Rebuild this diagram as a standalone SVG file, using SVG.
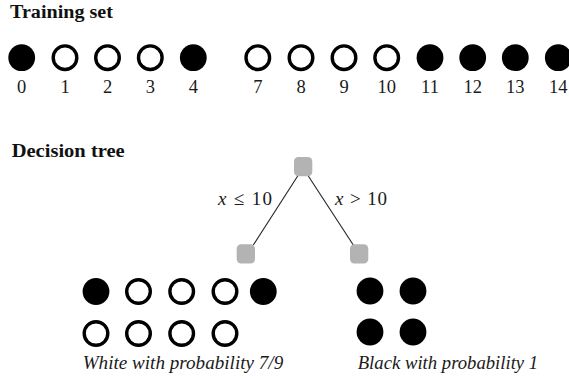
<svg xmlns="http://www.w3.org/2000/svg" width="569" height="379" viewBox="0 0 569 379">
<style>
text{font-family:"Liberation Serif","Times New Roman",serif;fill:#1a1a1a}
.title{font-weight:bold;font-size:18.5px;fill:#111}
.num{font-size:18.5px;text-anchor:middle}
.cap{font-style:italic;font-size:18px}
.lbl{font-size:19px}
.b{fill:#000}
.w{fill:#fff;stroke:#000;stroke-width:3.4}
.tn{fill:#b3b3b3}
.edge{stroke:#222;stroke-width:1.1;fill:none}
</style>
<rect width="569" height="379" fill="#fff"/>
<text class="title" x="10" y="17.5" textLength="103" lengthAdjust="spacingAndGlyphs">Training set</text>
<g id="training-set">
<circle class="b" cx="21.7" cy="57.7" r="13.4"/>
<circle class="w" cx="65" cy="57.7" r="11.8"/>
<circle class="w" cx="107.5" cy="57.7" r="11.8"/>
<circle class="w" cx="150.3" cy="57.7" r="11.8"/>
<circle class="b" cx="193.3" cy="57.7" r="13.4"/>
<circle class="w" cx="257.8" cy="57.7" r="11.8"/>
<circle class="w" cx="301" cy="57.7" r="11.8"/>
<circle class="w" cx="344" cy="57.7" r="11.8"/>
<circle class="w" cx="386.7" cy="57.7" r="11.8"/>
<circle class="b" cx="430" cy="57.7" r="13.4"/>
<circle class="b" cx="472.7" cy="57.7" r="13.4"/>
<circle class="b" cx="515.3" cy="57.7" r="13.4"/>
<circle class="b" cx="558.3" cy="57.7" r="13.4"/>
<text class="num" x="21.7" y="92.5">0</text>
<text class="num" x="65" y="92.5">1</text>
<text class="num" x="107.5" y="92.5">2</text>
<text class="num" x="150.3" y="92.5">3</text>
<text class="num" x="193.3" y="92.5">4</text>
<text class="num" x="257.8" y="92.5">7</text>
<text class="num" x="301" y="92.5">8</text>
<text class="num" x="344" y="92.5">9</text>
<text class="num" x="386.7" y="92.5">10</text>
<text class="num" x="430" y="92.5">11</text>
<text class="num" x="472.7" y="92.5">12</text>
<text class="num" x="515.3" y="92.5">13</text>
<text class="num" x="558.3" y="92.5">14</text>
</g>
<text class="title" x="11.7" y="157.3" textLength="113" lengthAdjust="spacingAndGlyphs">Decision tree</text>
<g id="connectors">
<line class="edge" x1="297.7" y1="176" x2="253.3" y2="245"/>
<line class="edge" x1="308.3" y1="176" x2="353.3" y2="245"/>
<text class="lbl" x="218" y="204.5" textLength="54" lengthAdjust="spacing"><tspan font-style="italic">x</tspan> ≤ 10</text>
<text class="lbl" x="335" y="204.5" textLength="52" lengthAdjust="spacing"><tspan font-style="italic">x</tspan> &gt; 10</text>
</g>
<g id="root"><rect class="tn" x="294" y="157" width="18.3" height="19.3" rx="4.5"/></g>
<g id="left-leaf"><rect class="tn" x="236.7" y="244.3" width="18.3" height="19.3" rx="4.5"/></g>
<g id="right-leaf"><rect class="tn" x="350" y="244.3" width="18.3" height="19.3" rx="4.5"/></g>
<g id="left-group">
<circle class="b" cx="96" cy="291.5" r="13.4"/>
<circle class="w" cx="138.5" cy="291.5" r="11.8"/>
<circle class="w" cx="181.7" cy="291.5" r="11.8"/>
<circle class="w" cx="225" cy="291.5" r="11.8"/>
<circle class="b" cx="263.3" cy="291.5" r="13.4"/>
<circle class="w" cx="96" cy="333.5" r="11.8"/>
<circle class="w" cx="138.5" cy="333.5" r="11.8"/>
<circle class="w" cx="181.7" cy="333.5" r="11.8"/>
<circle class="w" cx="225" cy="333.5" r="11.8"/>
<text class="cap" x="82.7" y="369.3" textLength="200.5" lengthAdjust="spacingAndGlyphs">White with probability 7/9</text>
</g>
<g id="right-group">
<circle class="b" cx="370" cy="291" r="13.4"/>
<circle class="b" cx="413" cy="291" r="13.4"/>
<circle class="b" cx="370" cy="332" r="13.4"/>
<circle class="b" cx="413" cy="332" r="13.4"/>
<text class="cap" x="357.7" y="369.3" textLength="180.5" lengthAdjust="spacingAndGlyphs">Black with probability 1</text>
</g>
</svg>
